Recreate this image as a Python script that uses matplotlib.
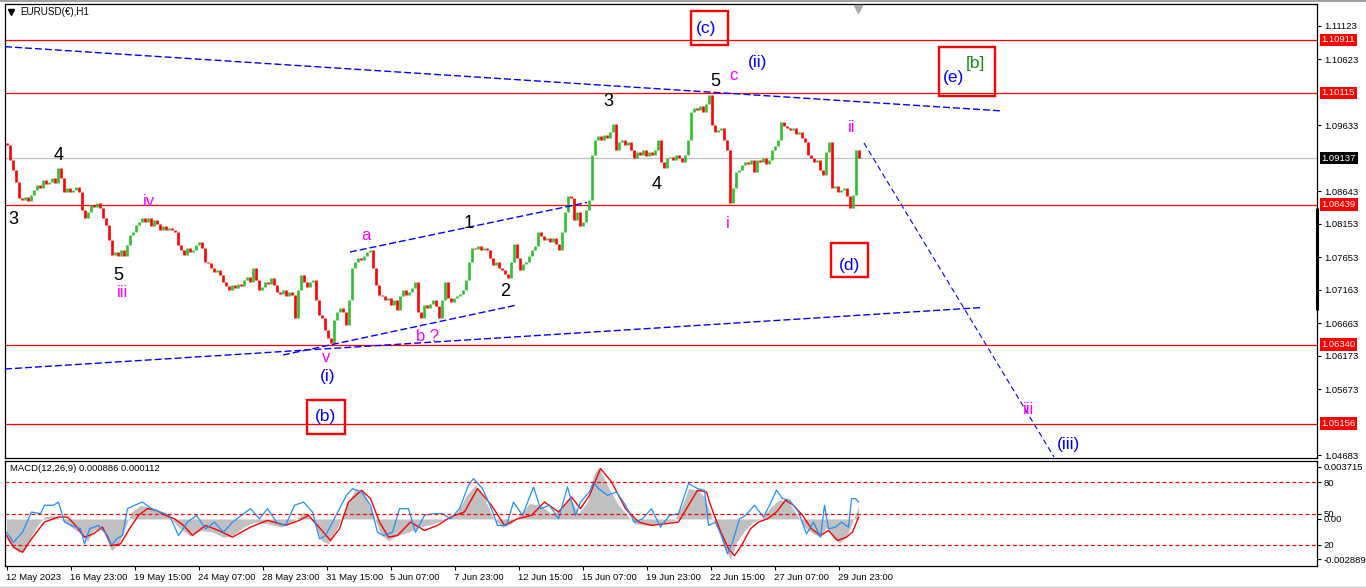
import numpy as np
import matplotlib
matplotlib.use("Agg")
import matplotlib.pyplot as plt
import matplotlib.transforms as mtransforms
from matplotlib.patches import Rectangle

# ---------------- data ----------------
first_open = 1.0937
closes = [
    1.09334, 1.09109, 1.08959, 1.08779, 1.08539, 1.08509, 1.08554, 1.08494, 1.08584, 1.08659,
    1.08734, 1.08689, 1.08809, 1.08749, 1.08779, 1.08839, 1.08764, 1.08989, 1.08839, 1.08629,
    1.08689, 1.08629, 1.08659, 1.08704, 1.08629, 1.08359, 1.08239, 1.08329, 1.08434, 1.08404,
    1.08464, 1.08389, 1.08239, 1.08134, 1.07909, 1.07684, 1.07729, 1.07669, 1.07759, 1.07669,
    1.07834, 1.07984, 1.08029, 1.08134, 1.08179, 1.08239, 1.08179, 1.08239, 1.08119, 1.08209,
    1.08149, 1.08059, 1.08119, 1.08059, 1.08089, 1.08059, 1.08029, 1.07834, 1.07759, 1.07684,
    1.07789, 1.07729, 1.07759, 1.07834, 1.07879, 1.07789, 1.07579, 1.07564, 1.07489, 1.07429,
    1.07459, 1.07384, 1.07279, 1.07219, 1.07159, 1.07234, 1.07189, 1.07249, 1.07219, 1.07309,
    1.07354, 1.07279, 1.07489, 1.07309, 1.07159, 1.07204, 1.07279, 1.07249, 1.07339, 1.07234,
    1.07129, 1.07099, 1.07159, 1.07069, 1.07129, 1.07084, 1.06739, 1.07159, 1.07384, 1.07279,
    1.07204, 1.07279, 1.07309, 1.07009, 1.06784, 1.06739, 1.06559, 1.06439, 1.06364, 1.06709,
    1.06829, 1.06889, 1.06829, 1.06634, 1.07009, 1.07489, 1.07579, 1.07639, 1.07609, 1.07669,
    1.07729, 1.07759, 1.07489, 1.07234, 1.07084, 1.07069, 1.07009, 1.07039, 1.06934, 1.07009,
    1.06859, 1.07069, 1.07159, 1.07084, 1.07129, 1.07189, 1.07279, 1.06829, 1.06739, 1.06934,
    1.06889, 1.06949, 1.07009, 1.06919, 1.06739, 1.07009, 1.07279, 1.07039, 1.06979, 1.07039,
    1.07069, 1.07099, 1.07159, 1.07309, 1.07579, 1.07789, 1.07769, 1.07819, 1.07759, 1.07789,
    1.07759, 1.07639, 1.07534, 1.07579, 1.07489, 1.07459, 1.07399, 1.07339, 1.07579, 1.07849,
    1.07639, 1.07459, 1.07549, 1.07579, 1.07669, 1.07759, 1.07819, 1.08029, 1.07969, 1.07909,
    1.07939, 1.07879, 1.07939, 1.07849, 1.07759, 1.08029, 1.08329, 1.08569, 1.08539, 1.08209,
    1.08329, 1.08119, 1.08179, 1.08359, 1.08509, 1.09184, 1.09409, 1.09469, 1.09409, 1.09484,
    1.09439, 1.09529, 1.09649, 1.09259, 1.09379, 1.09409, 1.09334, 1.09379, 1.09259, 1.09139,
    1.09229, 1.09184, 1.09259, 1.09169, 1.09229, 1.09184, 1.09259, 1.09409, 1.09079, 1.08989,
    1.09139, 1.09154, 1.09109, 1.09184, 1.09139, 1.09079, 1.09184, 1.09409, 1.09829, 1.09889,
    1.09859, 1.09919, 1.09829, 1.09949, 1.10084, 1.09634, 1.09529, 1.09559, 1.09589, 1.09409,
    1.09259, 1.08464, 1.08689, 1.08929, 1.08959, 1.09034, 1.09079, 1.09049, 1.09109, 1.08929,
    1.09109, 1.09079, 1.09139, 1.09049, 1.09109, 1.09259, 1.09319, 1.09409, 1.09679, 1.09619,
    1.09589, 1.09559, 1.09589, 1.09499, 1.09529, 1.09439, 1.09379, 1.09184, 1.09139, 1.09079,
    1.09109, 1.08959, 1.08884, 1.09229, 1.09379, 1.08689, 1.08719, 1.08629, 1.08659, 1.08689,
    1.08569, 1.08389, 1.08584, 1.09259, 1.09137,
]
bar_step_hours = 3

price_ticks = [1.11123, 1.10623, 1.09633, 1.08643, 1.08153, 1.07653,
               1.07163, 1.06663, 1.06173, 1.05673, 1.04683]
level_prices = [1.10911, 1.10115, 1.08439, 1.06340, 1.05156]
current_price = 1.09137

date_labels = ["12 May 2023", "16 May 23:00", "19 May 15:00", "24 May 07:00",
               "28 May 23:00", "31 May 15:00", "5 Jun 07:00", "7 Jun 23:00",
               "12 Jun 15:00", "15 Jun 07:00", "19 Jun 23:00", "22 Jun 15:00",
               "27 Jun 07:00", "29 Jun 23:00"]
date_hours = [0, 64, 128, 192, 256, 320, 384, 448, 512, 576, 640, 704, 768, 832]

# MACD histogram (main) samples
hist_hours = [0, 5, 12, 18, 25, 32, 38, 47, 56, 65, 74, 81, 87, 96, 105, 112, 119, 125,
              134, 143, 154, 163, 172, 183, 194, 206, 217, 226, 237, 248, 261, 275, 288,
              297, 306, 315, 322, 331, 340, 349, 357, 366, 375, 382, 391, 402, 413, 427,
              440, 451, 460, 469, 478, 487, 496, 505, 514, 523, 534, 545, 554, 563, 572,
              581, 587, 592, 601, 610, 619, 628, 641, 654, 668, 677, 682, 691, 698, 704,
              711, 717, 724, 730, 737, 746, 755, 763, 772, 781, 790, 798, 807, 814, 820,
              827, 833, 840, 846, 852]
hist_vals = [-0.00142, -0.00190, -0.00238, -0.00226, -0.00118, -0.00034, 0.00014, 0.00026,
             -0.00010, -0.00058, -0.00106, -0.00161, -0.00082, -0.00070, -0.00226, -0.00178,
             -0.00058, 0.00050, 0.00098, 0.00086, 0.00050, 0.00014, -0.00058, -0.00118,
             -0.00082, -0.00094, -0.00130, -0.00118, -0.00058, -0.00022, -0.00034, -0.00058,
             -0.00010, 0.00050, -0.00010, -0.00154, -0.00178, -0.00058, 0.00098, 0.00217,
             0.00193, 0.00038, -0.00118, -0.00154, -0.00118, -0.00094, -0.00058, -0.00034,
             0.00001, 0.00050, 0.00169, 0.00241, 0.00146, 0.00001, -0.00058, -0.00034,
             0.00038, 0.00110, 0.00098, 0.00038, 0.00061, 0.00157, 0.00038, 0.00121,
             0.00313, 0.003715, 0.00241, 0.00121, 0.00038, -0.00034, -0.00046, -0.00034,
             -0.00010, 0.00121, 0.00217, 0.00205, 0.00157, 0.00038, -0.00070, -0.00190,
             -0.002889, -0.00166, -0.00094, -0.00022, 0.00001, 0.00074, 0.00134, 0.00134,
             0.00038, -0.00058, -0.00106, -0.00130, -0.00058, -0.00142, -0.00170, -0.00130,
             -0.00022, 0.000886]

# MACD signal samples
signal_hours = [0, 7, 16, 25, 38, 52, 61, 69, 78, 87, 96, 105, 114, 123, 132, 141, 150, 159,
                168, 177, 186, 199, 212, 226, 244, 261, 279, 293, 302, 311, 324, 333, 342,
                355, 364, 373, 382, 391, 404, 418, 431, 444, 458, 471, 485, 498, 511, 525,
                538, 552, 565, 574, 583, 594, 605, 619, 632, 645, 659, 672, 691, 700, 704,
                713, 722, 728, 735, 744, 752, 761, 770, 779, 787, 796, 805, 814, 822, 831,
                840, 846, 852]
signal_vals = [-0.00118, -0.00202, -0.00238, -0.00142, -0.00022, 0.00014, 0.00014, -0.00046,
               -0.00130, -0.00106, -0.00058, -0.00190, -0.00178, -0.00070, 0.00026, 0.00074,
               0.00061, 0.00026, 0.00001, -0.00046, -0.00118, -0.00046, -0.00082, -0.00130,
               -0.00058, -0.00010, -0.00046, -0.00010, 0.00026, -0.00046, -0.00154, -0.00070,
               0.00121, 0.00205, 0.00146, -0.00022, -0.00130, -0.00118, -0.00022, -0.00082,
               -0.00046, 0.00014, 0.00050, 0.00217, 0.00098, -0.00046, 0.00001, 0.00026,
               0.00121, 0.00050, 0.00157, 0.00074, 0.00169, 0.00360, 0.00265, 0.00074,
               -0.00022, -0.00046, -0.00034, -0.00022, 0.00205, 0.00193, 0.00098, -0.00070,
               -0.00214, -0.00262, -0.00190, -0.00070, -0.00022, 0.00001, 0.00050, 0.00134,
               0.00098, 0.00026, -0.00070, -0.00118, -0.00082, -0.00154, -0.00130, -0.00094,
               0.000112]

# blue oscillator (0-100 scale) samples
osc_hours = [0, 7, 16, 25, 34, 38, 47, 52, 58, 65, 74, 78, 83, 92, 101, 105, 110, 116, 121,
             128, 136, 145, 154, 163, 172, 181, 190, 199, 208, 217, 226, 235, 244, 253, 261,
             270, 279, 288, 297, 306, 313, 319, 326, 333, 340, 346, 355, 364, 371, 377, 386,
             393, 402, 409, 418, 427, 436, 444, 453, 462, 467, 476, 485, 491, 500, 507, 516,
             527, 534, 543, 552, 561, 569, 574, 583, 587, 592, 601, 610, 619, 628, 636, 645,
             654, 663, 672, 682, 691, 698, 702, 709, 715, 721, 726, 733, 739, 748, 757, 763,
             770, 776, 783, 792, 800, 807, 814, 818, 822, 829, 835, 842, 845, 849, 852]
osc_vals = [32.2, 22.6, 32.2, 51.6, 50.0, 58.1, 58.1, 61.2, 41.9, 38.7, 35.5, 21.0, 35.5,
            38.7, 29.1, 19.4, 25.8, 29.1, 54.8, 58.1, 61.2, 54.8, 51.6, 48.4, 29.1, 41.9,
            48.4, 35.5, 41.9, 32.2, 41.9, 48.4, 54.8, 45.1, 54.8, 41.9, 38.7, 58.1, 61.2,
            51.6, 25.8, 29.1, 41.9, 54.8, 67.7, 74.1, 70.9, 58.1, 32.2, 29.1, 32.2, 54.8,
            54.8, 32.2, 48.4, 50.0, 50.0, 45.1, 54.8, 77.4, 83.8, 74.1, 54.8, 38.7, 38.7,
            61.2, 48.4, 75.7, 54.8, 58.1, 45.1, 75.7, 48.4, 61.2, 70.9, 80.6, 74.1, 67.7,
            70.9, 58.1, 41.9, 45.1, 54.8, 37.1, 48.4, 50.0, 79.0, 74.1, 72.6, 38.7, 41.9,
            29.1, 11.3, 22.6, 45.1, 48.4, 58.1, 46.7, 58.1, 72.6, 64.5, 62.9, 51.6, 30.6,
            41.9, 27.4, 58.1, 35.5, 37.1, 41.9, 37.1, 64.5, 64.5, 61.2]
osc_levels = [20, 50, 80]

# wave labels: text, hour, price, colour, size
wave_labels = [
    ("3", 6.5, 1.08209, "black", 13), ("4", 52.5, 1.09184, "black", 13),
    ("5", 111.5, 1.07369, "black", 13), ("iii", 115.5, 1.07114, "#ff00ff", 12),
    ("iv", 142.5, 1.08479, "#ff00ff", 12), ("a", 359.5, 1.07984, "#ff00ff", 12),
    ("v", 319.5, 1.06139, "#ff00ff", 12), ("(i)", 321.5, 1.05854, "#0000ff", 12.5),
    ("(b)", 319.5, 1.05254, "#0000ff", 12.5), ("b ?", 421.5, 1.06454, "#ff00ff", 12),
    ("1", 462.5, 1.08164, "black", 13), ("2", 498.5, 1.07129, "black", 13),
    ("3", 601.5, 1.09979, "black", 13), ("4", 650.5, 1.08734, "black", 13),
    ("5", 708.5, 1.10279, "black", 13), ("c", 726.5, 1.10369, "#ff00ff", 12),
    ("(ii)", 751.5, 1.10564, "#0000ff", 12.5), ("(c)", 699.5, 1.11074, "#0000ff", 12.5),
    ("i", 721.5, 1.08149, "#ff00ff", 12), ("ii", 845.5, 1.09589, "#ff00ff", 12),
    ("(d)", 842.5, 1.07519, "#0000ff", 12.5), ("(e)", 946.5, 1.10339, "#0000ff", 12.5),
    ("[b]", 968.5, 1.10549, "#158a15", 12.5), ("iii", 1022.5, 1.05359, "#ff00ff", 12),
    ("(iii)", 1062.5, 1.04849, "#0000ff", 12.5),
]
# red label boxes: hour0, hour1, price_low, price_high
label_boxes = [
    (300.5, 338.5, 1.04999, 1.05509),
    (684.5, 721.5, 1.10834, 1.11344),
    (824.5, 861.5, 1.07354, 1.07864),
    (932.5, 988.5, 1.10069, 1.10804),
]
# dashed trend lines: (hour0, price0, hour1, price1)
trend_lines = [
    (-1.5, 1.10809, 996.5, 1.09844),
    (-1.5, 1.05974, 976.5, 1.06897),
    (276.5, 1.06184, 510.5, 1.06934),
    (343.5, 1.07729, 580.5, 1.08472),
]
projection_line = (857.5, 1.09364, 1047.5, 1.04654)

# ---------------- figure ----------------
W, H = 1366, 588
fig = plt.figure(figsize=(W / 100, H / 100), dpi=100)
fig.patch.set_facecolor("white")

def fx(px):
    return px / W

def fy(py):
    return 1 - py / H

ax = fig.add_axes([fx(5), fy(458), fx(1317) - fx(5), fy(4) - fy(458)])
axm = fig.add_axes([fx(5), fy(566), fx(1317) - fx(5), fy(461) - fy(566)])

XMIN, XMAX = -1.5, 1310.5
ax.set_xlim(XMIN, XMAX)
ax.set_ylim(1.04639, 1.11449)
axm.set_xlim(XMIN, XMAX)
axm.set_ylim(-0.00336, 0.00414)

AXFONT = "Liberation Sans"
AXSIZE = 6.8

for a in (ax, axm):
    for s in a.spines.values():
        s.set_color("black")
        s.set_linewidth(0.9)

# level lines
for p in level_prices:
    ax.axhline(p, color="red", lw=0.9, zorder=1)
ax.axhline(current_price, color="#c0c0c0", lw=0.9, zorder=1)

# candles
c = np.array(closes)
o = np.r_[first_open, c[:-1]]
hrs = np.arange(len(c)) * bar_step_hours
up = c >= o
ax.vlines(hrs[up], o[up], c[up], colors="#2fbf2f", lw=1.9, zorder=3)
ax.vlines(hrs[~up], c[~up], o[~up], colors="#ff0000", lw=1.9, zorder=3)

# trend lines
for h0, p0, h1, p1 in trend_lines:
    ax.plot([h0, h1], [p0, p1], color="#0000ff", lw=1.0, dashes=(5, 2.2), zorder=4)
h0, p0, h1, p1 = projection_line
ax.plot([h0, h1], [p0, p1], color="#0000ff", lw=0.8, dashes=(5, 3), zorder=4, clip_on=False)

# wave labels
for txt, h, p, col, sz in wave_labels:
    ax.text(h, p, txt, color=col, fontsize=sz, family=AXFONT, ha="center", va="center", zorder=6)
for h0_, h1_, pl, ph in label_boxes:
    ax.add_patch(Rectangle((h0_, pl), h1_ - h0_, ph - pl, fill=False, ec="red", lw=1.7, zorder=6))

# right price axis
ax.yaxis.tick_right()
ax.set_yticks(price_ticks)
ax.set_yticklabels([f"{p:.5f}" for p in price_ticks])
ax.tick_params(axis="y", length=3, width=0.8, pad=2, labelsize=AXSIZE, colors="black")
for lab in ax.get_yticklabels():
    lab.set_family(AXFONT)
ax.set_xticks([])

blend = mtransforms.blended_transform_factory(ax.transAxes, ax.transData)
for p in level_prices:
    ax.text(1.0035, p, f"{p:.5f}", transform=blend, color="white", fontsize=AXSIZE,
            family=AXFONT, ha="left", va="center", zorder=10,
            bbox=dict(boxstyle="square,pad=0.18", fc="#ff0000", ec="none"))
ax.text(1.0035, current_price, f"{current_price:.5f}", transform=blend, color="white",
        fontsize=AXSIZE, family=AXFONT, ha="left", va="center", zorder=10,
        bbox=dict(boxstyle="square,pad=0.18", fc="black", ec="none"))
ax.plot([1.0, 1.0], [1.08389, 1.06859], transform=blend, color="black", lw=2.2,
        clip_on=False, solid_capstyle="butt", zorder=9)

# chart title & shift marker
ax.plot([0.0048], [0.983], transform=ax.transAxes, marker="v", color="black", ms=4.5, clip_on=False)
ax.text(0.0115, 0.983, "EURUSD(€),H1", transform=ax.transAxes, fontsize=AXSIZE + 0.3,
        family=AXFONT, ha="left", va="center")
ax.plot([851], [1.1137], marker="v", color="#a8a8a8", ms=6, clip_on=False, zorder=8)

# ---------------- MACD panel ----------------
hh = np.array(hist_hours)
hv = np.array(hist_vals)
axm.fill_between(hh, 0, hv, color="#c0c0c0", lw=0, zorder=1)
axm.plot(signal_hours, signal_vals, color="#ff0000", lw=1.0, zorder=3)

axo = axm.twinx()
axo.set_ylim(-0.2, 100.6)
axo.set_xlim(XMIN, XMAX)
axo.plot(osc_hours, osc_vals, color="#1e90ff", lw=0.9, zorder=2)
for lv in osc_levels:
    axo.axhline(lv, color="#ff0000", lw=0.9, dashes=(3, 2.2))
for s in axo.spines.values():
    s.set_visible(False)

axm.yaxis.tick_right()
axm.set_yticks([0.003715, 0.0, -0.002889])
axm.set_yticklabels(["0.003715", "0.00", "-0.002889"])
axm.tick_params(axis="y", length=3, width=0.8, pad=2, labelsize=AXSIZE)
axo.set_yticks(osc_levels)
axo.set_yticklabels([str(v) for v in osc_levels])
axo.tick_params(axis="y", length=3, width=0.8, pad=2, labelsize=AXSIZE)
for lab in list(axm.get_yticklabels()) + list(axo.get_yticklabels()):
    lab.set_family(AXFONT)

axm.set_xticks(date_hours)
axm.set_xticklabels(date_labels)
axm.tick_params(axis="x", length=3, width=0.8, pad=2, labelsize=AXSIZE)
for lab in axm.get_xticklabels():
    lab.set_family(AXFONT)
    lab.set_horizontalalignment("left")

axm.text(0.004, 0.925, "MACD(12,26,9) 0.000886 0.000112", transform=axm.transAxes,
         fontsize=AXSIZE, family=AXFONT, ha="left", va="center", zorder=10)

# outer window frame
fig.add_artist(plt.Line2D([0, 1], [fy(1), fy(1)], color="#a0a0a0", lw=1.5))
fig.add_artist(plt.Line2D([0, 1], [fy(586.5), fy(586.5)], color="#c8c8c8", lw=1.0))

fig.savefig("out.png", dpi=100, facecolor="white")
